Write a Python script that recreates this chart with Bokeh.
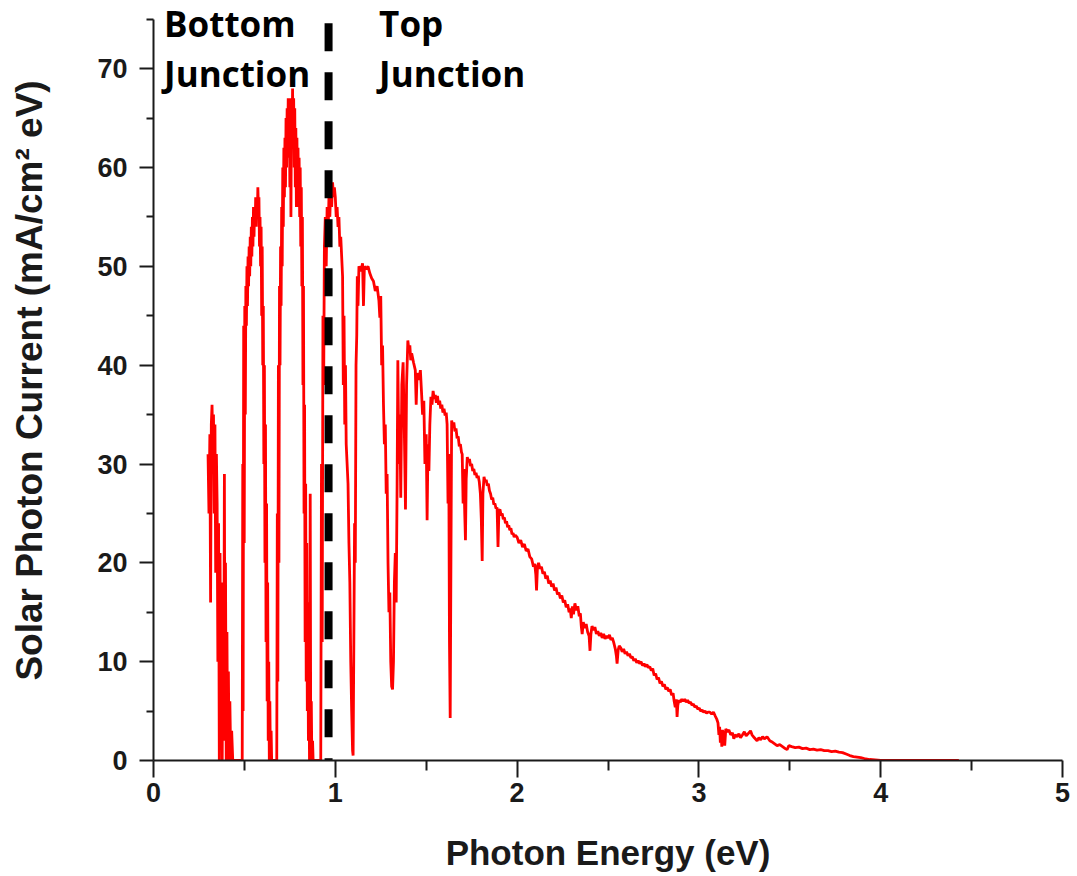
from bokeh.plotting import figure
from bokeh.models import FixedTicker, Label, Range1d, ColumnDataSource
from bokeh.embed import file_html
from bokeh.resources import INLINE

# ---- data (photon energy in eV, current in mA/cm^2 eV) ----
energy_band1 = [0.300, 0.305, 0.310, 0.314, 0.318, 0.322, 0.326, 0.330, 0.334, 0.338, 0.342, 0.346,
                0.350, 0.354, 0.358, 0.362, 0.366, 0.370, 0.374, 0.378, 0.382, 0.386, 0.390, 0.393,
                0.396, 0.400, 0.404, 0.408, 0.412, 0.416, 0.420, 0.425, 0.430, 0.436]
current_band1 = [31, 25, 33, 16, 34, 36, 32, 35, 25, 34, 19, 31,
                 26, 10, 24, 0, 21, 5, 18, 0, 16, 2, 29, 3,
                 20, 0, 13, 0, 9, 0, 6, 0, 3, 0]

energy_band2 = [0.488, 0.491, 0.493, 0.496, 0.499, 0.502, 0.505, 0.508, 0.511, 0.514, 0.517, 0.520,
                0.523, 0.526, 0.529, 0.532, 0.535, 0.538, 0.541, 0.544, 0.547, 0.550, 0.553, 0.556,
                0.559, 0.562, 0.565, 0.568, 0.571, 0.574, 0.577, 0.580, 0.583, 0.586, 0.589, 0.592,
                0.595, 0.598, 0.601, 0.604, 0.607, 0.610, 0.613, 0.616, 0.619, 0.622, 0.625, 0.628,
                0.631, 0.634, 0.637, 0.640, 0.643, 0.647, 0.650]
current_band2 = [0, 30, 5, 44, 22, 46, 35, 48, 44, 50, 46, 51,
                 48, 52, 49, 53, 50, 54, 51, 55, 52, 56, 53, 56,
                 54, 57, 54, 57, 55, 58, 56, 57, 52, 55, 50, 54,
                 45, 52, 40, 46, 30, 40, 20, 34, 12, 26, 6, 18,
                 2, 10, 0, 6, 0, 3, 0]

energy_band3 = [0.678, 0.681, 0.684, 0.687, 0.690, 0.693, 0.696, 0.699, 0.702, 0.705, 0.708, 0.711,
                0.714, 0.717, 0.720, 0.723, 0.726, 0.729, 0.732, 0.735, 0.738, 0.741, 0.744, 0.747,
                0.750, 0.753, 0.756, 0.759, 0.762, 0.765, 0.768, 0.771, 0.774, 0.777, 0.780, 0.783,
                0.786, 0.789, 0.792, 0.795, 0.798, 0.801, 0.804, 0.807, 0.810, 0.813, 0.816, 0.819,
                0.822, 0.825, 0.828, 0.831, 0.834, 0.837, 0.840, 0.843, 0.846, 0.849, 0.852, 0.855,
                0.858, 0.862, 0.865, 0.868, 0.871, 0.875, 0.878]
current_band3 = [0, 25, 8, 40, 20, 48, 40, 52, 46, 56, 50, 60,
                 54, 62, 57, 63, 58, 65, 60, 66, 61, 67, 62, 67,
                 58, 66, 55, 67, 63, 68, 62, 67, 60, 66, 58, 64,
                 56, 63, 57, 62, 56, 61, 55, 60, 52, 58, 48, 55,
                 38, 48, 25, 36, 12, 28, 8, 22, 5, 16, 2, 12,
                 0, 27, 0, 6, 0, 2, 0]

energy_band4 = [0.916, 0.920, 0.924, 0.928, 0.932, 0.936, 0.940, 0.945, 0.950, 0.955, 0.960, 0.965,
                0.970, 0.975, 0.980, 0.985, 0.990, 0.995, 1.000, 1.005, 1.010, 1.015, 1.020, 1.025,
                1.030, 1.035, 1.040, 1.044, 1.048, 1.052, 1.056, 1.060, 1.065, 1.070, 1.075, 1.080,
                1.085, 1.090, 1.095]
current_band4 = [0, 0, 30, 12, 45, 38, 52, 55, 50, 56, 53, 57,
                 55, 58, 56, 58.5, 57, 58, 57, 55, 56, 54, 55, 52,
                 53, 51, 49, 38, 45, 34, 40, 32, 30, 28, 22, 18,
                 10, 5, 1]

energy_band5 = [1.098, 1.102, 1.106, 1.110, 1.114, 1.118, 1.121, 1.125, 1.130, 1.140, 1.150, 1.155,
                1.160, 1.170, 1.180, 1.190, 1.200, 1.210, 1.220, 1.230, 1.240, 1.245, 1.250, 1.255,
                1.260, 1.265, 1.270, 1.275, 1.280, 1.285, 1.290, 1.295, 1.300, 1.305, 1.310, 1.315]
current_band5 = [0.5, 12, 24, 20, 40, 43, 49, 46, 50, 49.5, 50.3, 46,
                 50, 49.7, 50, 49.3, 48.8, 48.5, 47.5, 48, 46.5, 44.8, 47, 40,
                 42, 36, 32, 34, 27, 29, 20, 15, 17, 10, 7.5, 7.2]

energy_band6 = [1.320, 1.325, 1.330, 1.335, 1.340, 1.344, 1.350, 1.355, 1.360, 1.366,
                1.373, 1.380, 1.386, 1.392, 1.399, 1.405, 1.410, 1.415, 1.420, 1.430,
                1.440, 1.445, 1.450, 1.460, 1.468, 1.475, 1.480, 1.487, 1.493, 1.500,
                1.505, 1.510, 1.515]
current_band6 = [10, 18, 21, 16, 28, 40.5, 30, 35, 26.6, 38,
                 40.3, 33, 25.4, 38, 42.5, 41.5, 42, 40.5, 41.2, 40.3,
                 39.5, 36, 39.2, 38.5, 39.5, 37, 35, 36.4, 30, 33,
                 24.3, 32, 29.3]

energy_band7 = [1.520, 1.526, 1.532, 1.538, 1.544, 1.550, 1.556, 1.562, 1.568, 1.574,
                1.580, 1.586, 1.592, 1.598, 1.604, 1.610, 1.615, 1.620, 1.624, 1.628,
                1.632, 1.636, 1.640, 1.646, 1.652, 1.658, 1.664, 1.670, 1.676, 1.682,
                1.688, 1.694, 1.698, 1.703, 1.707, 1.712, 1.716, 1.720, 1.726, 1.732,
                1.738, 1.744, 1.750, 1.756, 1.762, 1.768, 1.774, 1.780, 1.786, 1.792,
                1.798, 1.803, 1.808, 1.812, 1.818, 1.824, 1.830, 1.836, 1.842, 1.848,
                1.854, 1.860, 1.866, 1.872, 1.878, 1.884, 1.890, 1.895, 1.900, 1.906,
                1.912, 1.918, 1.924, 1.930, 1.936, 1.942, 1.948, 1.954, 1.960, 1.966,
                1.972, 1.978, 1.984, 1.990]
current_band7 = [34, 36.8, 36.0, 37.4, 36.6, 37.0, 36.2, 36.9, 36.0, 36.4,
                 35.6, 36.0, 35.2, 35.6, 34.9, 35.2, 34.0, 26, 31, 12,
                 4.3, 20, 34.4, 33.8, 34.2, 33.3, 33.6, 32.6, 32.8, 31.8,
                 32.0, 31.2, 31.0, 26, 29.5, 25, 22.3, 28.5, 30.7, 30.2,
                 30.5, 29.8, 30.0, 29.3, 29.5, 28.9, 29.1, 28.6, 28.8, 28.2,
                 27.0, 24.5, 20.2, 27.0, 28.7, 28.2, 28.4, 27.8, 28.0, 27.3,
                 27.0, 26.4, 26.6, 25.9, 26.0, 25.5, 25.6, 21.6, 25.3, 25.4,
                 24.8, 25.0, 24.4, 24.6, 24.0, 24.2, 23.6, 23.8, 23.3, 23.5,
                 22.9, 23.0, 22.6, 22.8]

energy_band8 = [2.000, 2.010, 2.020, 2.030, 2.040, 2.050, 2.060, 2.070, 2.080, 2.090,
                2.097, 2.103, 2.107, 2.112, 2.118, 2.126, 2.134, 2.142, 2.150, 2.158,
                2.166, 2.174, 2.182, 2.190, 2.198, 2.206, 2.214, 2.222, 2.230, 2.238,
                2.246, 2.254, 2.262, 2.270, 2.278, 2.286, 2.292, 2.298, 2.304, 2.310,
                2.318, 2.326, 2.334, 2.342, 2.348, 2.353, 2.358, 2.364, 2.372, 2.380,
                2.388, 2.396, 2.401, 2.406, 2.412, 2.420, 2.428, 2.436, 2.444, 2.452,
                2.460, 2.468, 2.476, 2.484, 2.492, 2.500, 2.508, 2.516, 2.524, 2.532,
                2.540, 2.546, 2.550, 2.556, 2.562, 2.570, 2.578, 2.586, 2.594, 2.602,
                2.610, 2.618, 2.626, 2.634, 2.642, 2.650, 2.658, 2.666, 2.674, 2.682,
                2.690, 2.698, 2.706, 2.714, 2.722, 2.730, 2.738, 2.746, 2.754, 2.762,
                2.770, 2.778, 2.786, 2.794, 2.802, 2.810, 2.818, 2.826, 2.834, 2.842,
                2.850, 2.858, 2.864, 2.870, 2.876, 2.880, 2.884, 2.890, 2.898, 2.906,
                2.914, 2.922, 2.930, 2.938, 2.946, 2.954, 2.962, 2.970, 2.978, 2.986,
                2.994, 3.002, 3.010, 3.018, 3.026, 3.034, 3.042, 3.050]
current_band8 = [22.6, 22.0, 22.3, 21.6, 21.9, 21.2, 21.4, 20.6, 20.4, 19.6,
                 19.9, 18.8, 17.2, 19.6, 20.0, 19.4, 19.6, 18.9, 19.1, 18.4,
                 18.7, 17.9, 18.2, 17.6, 17.9, 17.2, 17.5, 16.8, 17.0, 16.4,
                 16.7, 16.0, 16.2, 15.5, 15.8, 15.0, 15.4, 14.4, 15.6, 14.8,
                 15.9, 15.2, 15.6, 14.6, 14.9, 13.6, 12.8, 14.0, 13.4, 13.8,
                 13.0, 12.6, 11.1, 12.8, 13.6, 13.2, 13.5, 12.8, 13.1, 12.6,
                 12.9, 12.4, 12.8, 12.3, 12.6, 12.4, 12.7, 12.2, 12.4, 11.9,
                 11.3, 10.6, 9.8, 11.2, 11.6, 11.4, 11.0, 11.3, 10.8, 11.0,
                 10.6, 10.8, 10.4, 10.5, 10.1, 10.3, 9.9, 10.1, 9.8, 10.0,
                 9.6, 9.8, 9.5, 9.7, 9.4, 9.5, 9.1, 9.3, 8.6, 8.8,
                 8.2, 8.4, 7.8, 8.0, 7.5, 7.7, 7.2, 7.4, 7.0, 7.2,
                 6.6, 6.8, 6.0, 5.4, 6.2, 4.4, 5.6, 6.1, 5.9, 6.2,
                 6.0, 6.2, 5.9, 6.1, 5.8, 5.9, 5.6, 5.7, 5.4, 5.5,
                 5.2, 5.3, 5.0, 5.1, 4.9, 5.0, 4.8, 4.9]

energy_band9 = [3.060, 3.070, 3.080, 3.090, 3.098, 3.105, 3.110, 3.114, 3.118, 3.122,
                3.126, 3.130, 3.134, 3.138, 3.142, 3.148, 3.156, 3.165, 3.175, 3.185,
                3.192, 3.200, 3.210, 3.220, 3.229, 3.240, 3.250, 3.260, 3.270, 3.284,
                3.292, 3.300, 3.310, 3.320, 3.330, 3.340, 3.350, 3.360, 3.375, 3.390,
                3.400, 3.415, 3.430, 3.445, 3.460, 3.475, 3.485, 3.495, 3.510, 3.530,
                3.550, 3.570, 3.590, 3.610, 3.630, 3.650, 3.670, 3.690, 3.710, 3.730,
                3.750, 3.770, 3.790, 3.810, 3.830, 3.850, 3.870, 3.890, 3.910, 3.940,
                3.970, 4.000, 4.430]
current_band9 = [4.9, 4.7, 4.9, 4.5, 4.2, 3.8, 2.6, 3.4, 1.8, 3.0,
                 1.4, 3.1, 1.6, 3.0, 1.5, 3.2, 2.9, 3.1, 2.6, 2.8,
                 2.2, 2.6, 2.4, 2.7, 2.3, 2.6, 2.9, 2.5, 2.7, 3.0,
                 2.6, 2.4, 2.2, 2.0, 2.3, 2.1, 2.4, 2.2, 2.4, 2.0,
                 1.9, 1.7, 1.5, 1.6, 1.4, 1.2, 1.1, 1.5, 1.4, 1.3,
                 1.35, 1.2, 1.25, 1.1, 1.15, 1.05, 1.1, 1.0, 1.0, 0.9,
                 0.95, 0.85, 0.8, 0.65, 0.5, 0.4, 0.35, 0.3, 0.2, 0.1,
                 0.05, 0.0, 0.0]

junction_energy = [0.963, 0.963]     # bandgap boundary (eV)
junction_extent = [74.6, 0.0]        # vertical extent of the divider (mA/cm^2 eV)

x_ticks = [0, 1, 2, 3, 4, 5]
x_minor = [0.5, 1.5, 2.5, 3.5, 4.5]
y_ticks = [0, 10, 20, 30, 40, 50, 60, 70]
y_minor = [5, 15, 25, 35, 45, 55, 65, 75]

x_title = "Photon Energy (eV)"
y_title = "Solar Photon Current (mA/cm\u00b2 eV)"

energies = []
currents = []
for e, c in [(energy_band1, current_band1), (energy_band2, current_band2),
             (energy_band3, current_band3), (energy_band4, current_band4),
             (energy_band5, current_band5), (energy_band6, current_band6),
             (energy_band7, current_band7), (energy_band8, current_band8),
             (energy_band9, current_band9)]:
    assert len(e) == len(c), (len(e), len(c))
    energies += e
    currents += c

src = ColumnDataSource(dict(energy=energies, current=currents))

p = figure(width=1077, height=876, x_range=Range1d(0, 5), y_range=Range1d(0, 76.9),
           output_backend="svg", toolbar_location=None,
           min_border_left=153, min_border_right=15, min_border_top=0, min_border_bottom=116)
p.xgrid.visible = False
p.ygrid.visible = False
p.outline_line_color = None
p.background_fill_color = "white"
p.border_fill_color = "white"

p.line("energy", "current", source=src, line_color="#ff0000", line_width=2.8)
p.line(junction_energy, junction_extent, line_color="black", line_width=8, line_dash="28 21")

for ax in (p.xaxis[0], p.yaxis[0]):
    ax.axis_line_color = "#1a1a1a"
    ax.axis_line_width = 2
    ax.major_tick_line_color = "#1a1a1a"
    ax.major_tick_line_width = 2
    ax.minor_tick_line_color = "#1a1a1a"
    ax.minor_tick_line_width = 2
    ax.major_tick_in = 0
    ax.minor_tick_in = 0
    ax.major_label_text_font = "Liberation Sans"
    ax.major_label_text_font_style = "bold"
    ax.major_label_text_font_size = "27px"
    ax.major_label_text_color = "#1a1a1a"
    ax.axis_label_text_font = "Liberation Sans"
    ax.axis_label_text_font_style = "bold"
    ax.axis_label_text_color = "#1a1a1a"

xa = p.xaxis[0]
xa.ticker = FixedTicker(ticks=x_ticks, minor_ticks=x_minor)
xa.major_tick_out = 17
xa.minor_tick_out = 10
xa.major_label_standoff = 5
xa.axis_label = x_title
xa.axis_label_text_font_size = "35px"
xa.axis_label_standoff = 28

ya = p.yaxis[0]
ya.ticker = FixedTicker(ticks=y_ticks, minor_ticks=y_minor)
ya.bounds = (0, 75)
ya.major_tick_out = 14
ya.minor_tick_out = 7
ya.major_label_standoff = 12
ya.axis_label = y_title
ya.axis_label_text_font_size = "37px"
ya.axis_label_standoff = 44

label_style = dict(text_font="Open Sans", text_font_style="bold", text_font_size="35px",
                   text_color="black", text_baseline="alphabetic")
p.add_layout(Label(x=0.058, y=74.6, text="Bottom", **label_style))
p.add_layout(Label(x=0.058, y=69.5, text="Junction", **label_style))
p.add_layout(Label(x=1.241, y=74.6, text="Top", **label_style))
p.add_layout(Label(x=1.241, y=69.5, text="Junction", **label_style))

open("out.html", "w").write(file_html(p, INLINE))
